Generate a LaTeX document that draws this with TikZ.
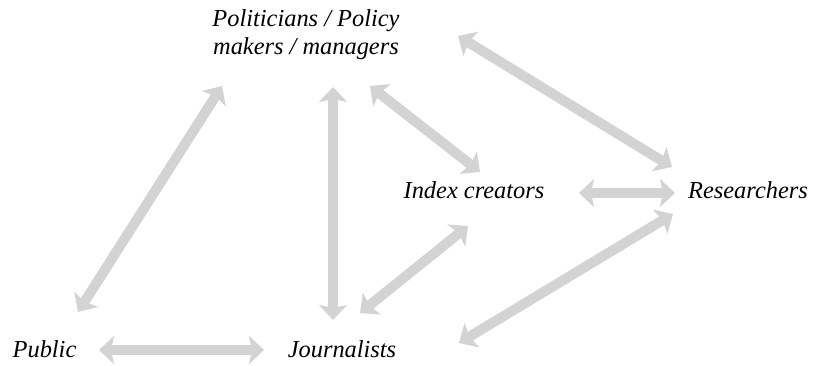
\documentclass[tikz,border=0pt]{standalone}
\usepackage{fontspec}
\setmainfont{Liberation Serif}
\usetikzlibrary{arrows.meta}
\definecolor{linkgray}{RGB}{211,211,211}
\tikzset{
  actor/.style={font=\fontsize{24.4}{28}\selectfont\itshape, inner sep=0pt, anchor=base, align=center},
  link/.style={draw=linkgray, line width=10pt,
    {Stealth[length=15pt,width=28pt,inset=3pt]}-{Stealth[length=15pt,width=28pt,inset=3pt]}}
}
\begin{document}
\begin{tikzpicture}[x=1pt,y=-1pt]
  \useasboundingbox (0,0) rectangle (816,366);
  % actors (a two-line node is anchored at the baseline of its last line)
  \node[actor] (pol)  at (306,55)  {Politicians / Policy\\makers / managers};
  \node[actor] (idx)  at (474,199) {Index creators};
  \node[actor] (res)  at (748,199) {Researchers};
  \node[actor] (pub)  at (44.5,357) {Public};
  \node[actor] (jour) at (342,357) {Journalists};
  % two-way links
  \draw[link] ([shift={(33.5,-45)}]pub.base) -- ([shift={(-84,31)}]pol.base);
  \draw[link] ([shift={(27,32)}]pol.base) -- ([shift={(-9,-37)}]jour.base);
  \draw[link] ([shift={(64,31)}]pol.base) -- ([shift={(6,-27)}]idx.base);
  \draw[link] ([shift={(152,-19)}]pol.base) -- ([shift={(-76,-32)}]res.base);
  \draw[link] ([shift={(105,-6)}]idx.base) -- ([shift={(-73,-6)}]res.base);
  \draw[link] ([shift={(-6,27)}]idx.base) -- ([shift={(18,-44)}]jour.base);
  \draw[link] ([shift={(-75,15)}]res.base) -- ([shift={(117,-14)}]jour.base);
  \draw[link] ([shift={(54.5,-7)}]pub.base) -- ([shift={(-78,-7)}]jour.base);
\end{tikzpicture}
\end{document}
